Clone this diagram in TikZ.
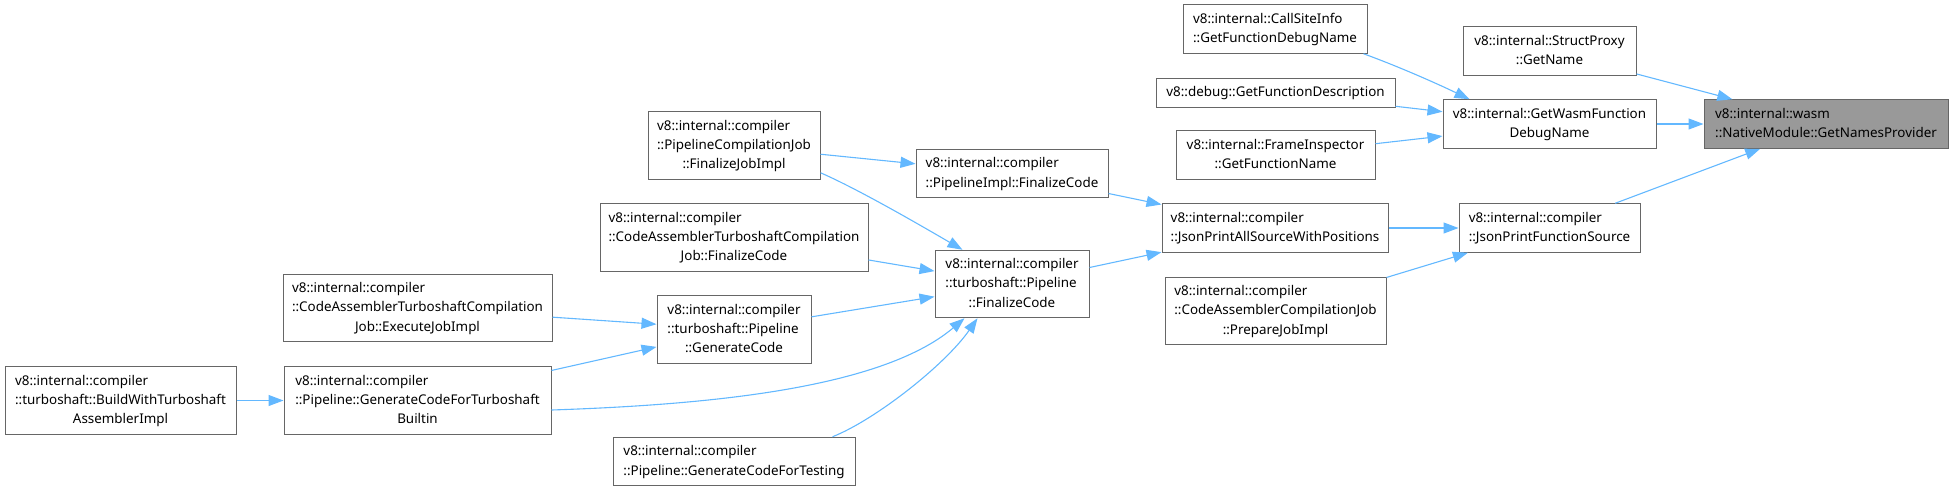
\documentclass[tikz,border=0pt]{standalone}
\usepackage{fontspec}
\setmainfont{Noto Sans}
\usetikzlibrary{arrows.meta}
\newcommand{\dlab}[1]{\begin{tabular}{@{}l@{}}#1\end{tabular}}
\newcommand{\dlast}[1]{\multicolumn{1}{@{}c@{}}{#1}}
\definecolor{edgeblue}{HTML}{63B8FF}
\definecolor{boxgray}{HTML}{666666}
\definecolor{rootfill}{HTML}{999999}
\begin{document}
\begin{tikzpicture}[
  fn/.style={draw=boxgray, line width=1pt, fill=white, rectangle, inner sep=0pt, font=\fontsize{13.4}{19.3}\selectfont},
  root/.style={fn, fill=rootfill},
  one/.style={minimum height=29pt},
  two/.style={minimum height=48.5pt},
  three/.style={minimum height=67.5pt},
  call/.style={draw=edgeblue, line width=1.1pt, -{Triangle[length=15pt,width=11pt]}},
]
\useasboundingbox (0,0) rectangle (1953pt,-491pt);
\begin{scope}[x=1pt,y=1pt]
\node[root, two, minimum width=244pt] (A) at (1826,-124) {\dlab{v8::internal::wasm\\\dlast{::NativeModule::GetNamesProvider}}};
\node[fn, two, minimum width=173pt] (B) at (1549.5,-51) {\dlab{v8::internal::StructProxy\\\dlast{::GetName}}};
\node[fn, two, minimum width=184pt] (C) at (1275,-29) {\dlab{v8::internal::CallSiteInfo\\\dlast{::GetFunctionDebugName}}};
\node[fn, two, minimum width=213pt] (D) at (1549.5,-124) {\dlab{v8::internal::GetWasmFunction\\\dlast{DebugName}}};
\node[fn, one, minimum width=239pt] (E) at (1275.5,-92.5) {\dlab{v8::debug::GetFunctionDescription}};
\node[fn, two, minimum width=199pt] (F) at (1275.5,-155) {\dlab{v8::internal::FrameInspector\\\dlast{::GetFunctionName}}};
\node[fn, two, minimum width=181pt] (G) at (1549.5,-228) {\dlab{v8::internal::compiler\\\dlast{::JsonPrintFunctionSource}}};
\node[fn, two, minimum width=226pt] (H) at (1275,-228) {\dlab{v8::internal::compiler\\\dlast{::JsonPrintAllSourceWithPositions}}};
\node[fn, three, minimum width=221pt] (I) at (1275.5,-311) {\dlab{v8::internal::compiler\\::CodeAssemblerCompilationJob\\\dlast{::PrepareJobImpl}}};
\node[fn, two, minimum width=192pt] (J) at (1012,-173.5) {\dlab{v8::internal::compiler\\\dlast{::PipelineImpl::FinalizeCode}}};
\node[fn, three, minimum width=154pt] (K) at (1012,-284) {\dlab{v8::internal::compiler\\::turboshaft::Pipeline\\\dlast{::FinalizeCode}}};
\node[fn, three, minimum width=172pt] (L) at (734,-145.5) {\dlab{v8::internal::compiler\\::PipelineCompilationJob\\\dlast{::FinalizeJobImpl}}};
\node[fn, three, minimum width=268pt] (M) at (734,-237.5) {\dlab{v8::internal::compiler\\::CodeAssemblerTurboshaftCompilation\\\dlast{Job::FinalizeCode}}};
\node[fn, three, minimum width=154pt] (N) at (734,-329.5) {\dlab{v8::internal::compiler\\::turboshaft::Pipeline\\\dlast{::GenerateCode}}};
\node[fn, three, minimum width=269pt] (O) at (417.5,-308) {\dlab{v8::internal::compiler\\::CodeAssemblerTurboshaftCompilation\\\dlast{Job::ExecuteJobImpl}}};
\node[fn, three, minimum width=267pt] (P) at (417.5,-400.5) {\dlab{v8::internal::compiler\\::Pipeline::GenerateCodeForTurboshaft\\\dlast{Builtin}}};
\node[fn, three, minimum width=231pt] (Q) at (120.5,-400.5) {\dlab{v8::internal::compiler\\::turboshaft::BuildWithTurboshaft\\\dlast{AssemblerImpl}}};
\node[fn, two, minimum width=242pt] (R) at (734,-461.5) {\dlab{v8::internal::compiler\\\dlast{::Pipeline::GenerateCodeForTesting}}};

\draw[call] (B) -- (A);
\draw[call] (D) -- (A);
\draw[call] (G) -- (A);
\draw[call] ([xshift=-4pt]C.south east) .. controls (1400,-67) and (1440,-85) .. ([xshift=27pt]D.north west);
\draw[call] (E) -- (D);
\draw[call] (F) -- (D);
\draw[call] (H) -- (G);
\draw[call] (I) -- (G);
\draw[call] (J) -- (H);
\draw[call] (K) -- (H);
\draw[call] (L) -- (J);
\draw[call] ([yshift=7pt]L.south east) .. controls (860,-190) and (925,-228) .. ([xshift=28pt]K.north west);
\draw[call] (M) -- (K);
\draw[call] (N) -- (K);
\draw[call] ([yshift=-9.5pt]P.east) .. controls (700,-405) and (880,-390) .. ([xshift=30pt]K.south west);
\draw[call] ([xshift=-23pt]R.north east) .. controls (875,-420) and (945,-365) .. ([xshift=43pt]K.south west);
\draw[call] (O) -- (N);
\draw[call] (P) -- (N);
\draw[call] (Q) -- (P);
\end{scope}
\end{tikzpicture}
\end{document}
